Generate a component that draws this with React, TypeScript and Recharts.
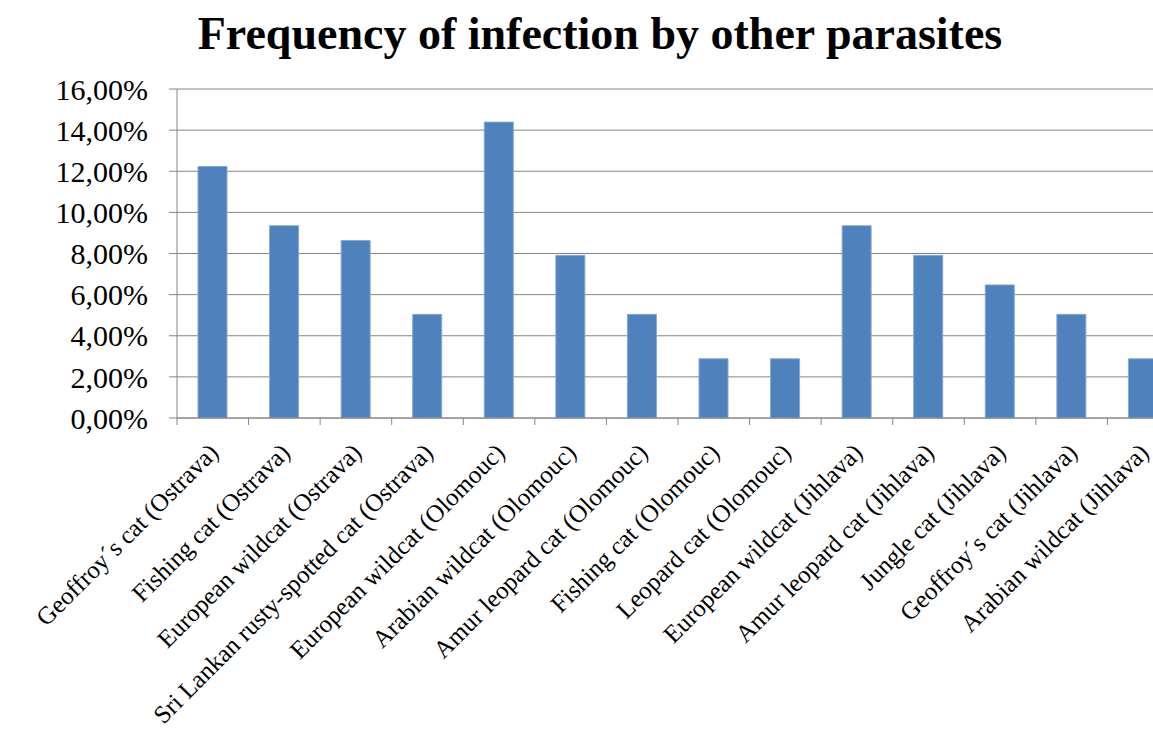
import React from "react"
import { BarChart, Bar, XAxis, YAxis, CartesianGrid } from "recharts"

// categories and infection frequencies (share of examined samples)
const categories = [
  "Geoffroy´s cat (Ostrava)",
  "Fishing cat (Ostrava)",
  "European wildcat (Ostrava)",
  "Sri Lankan rusty-spotted cat (Ostrava)",
  "European wildcat (Olomouc)",
  "Arabian wildcat (Olomouc)",
  "Amur leopard cat (Olomouc)",
  "Fishing cat (Olomouc)",
  "Leopard cat (Olomouc)",
  "European wildcat (Jihlava)",
  "Amur leopard cat (Jihlava)",
  "Jungle cat (Jihlava)",
  "Geoffroy´s cat (Jihlava)",
  "Arabian wildcat (Jihlava)",
]

const frequency = [
  0.1223, 0.0935, 0.0863, 0.0504, 0.1439, 0.0791, 0.0504,
  0.0288, 0.0288, 0.0935, 0.0791, 0.0647, 0.0504, 0.0288,
]

const yTicks = [0, 0.02, 0.04, 0.06, 0.08, 0.1, 0.12, 0.14, 0.16]

const chartData = categories.map((name, i) => ({ name, value: frequency[i] }))

const FONT = '"Liberation Serif", "Times New Roman", serif'
const GRID = "#868686"

const CHART_W = 1190
const CHART_H = 731
const Y_AXIS_W = 177
const MARGIN_RIGHT = 11
const BAND = (CHART_W - Y_AXIS_W - MARGIN_RIGHT) / categories.length

const formatPercent = (v: number) => (v * 100).toFixed(2).replace(".", ",") + "%"

// rotated category label with a tick mark at the left edge of each band
const CategoryTick = (props: any) => {
  const { x, y, payload } = props
  const left = x - BAND / 2
  const tx = x + 7
  const ty = y + 36
  return (
    <g>
      <line x1={left} y1={y} x2={left} y2={y + 7} stroke={GRID} strokeWidth={1} />
      <text
        x={tx}
        y={ty}
        textAnchor="end"
        transform={`rotate(-45, ${tx}, ${ty})`}
        fontFamily={FONT}
        fontSize={25}
        fill="#000"
      >
        {payload.value}
      </text>
    </g>
  )
}

export default function App() {
  return (
    <div
      style={{
        position: "absolute",
        left: 0,
        top: 0,
        width: 1153,
        height: 731,
        overflow: "hidden",
        background: "#fff",
      }}
    >
      <div
        style={{
          position: "absolute",
          left: 0,
          top: 11,
          width: 1200,
          textAlign: "center",
          fontFamily: FONT,
          fontWeight: "bold",
          fontSize: 46,
          lineHeight: "46px",
          color: "#000",
        }}
      >
        Frequency of infection by other parasites
      </div>
      <BarChart
        width={CHART_W}
        height={CHART_H}
        data={chartData}
        margin={{ top: 89, right: MARGIN_RIGHT, bottom: 0, left: 0 }}
        barSize={29}
      >
        <CartesianGrid vertical={false} stroke={GRID} strokeWidth={1} />
        <XAxis
          dataKey="name"
          interval={0}
          height={CHART_H - 418}
          axisLine={{ stroke: GRID }}
          tickLine={false}
          tickSize={0}
          tickMargin={0}
          tick={<CategoryTick />}
        />
        <YAxis
          width={Y_AXIS_W}
          domain={[0, 0.16]}
          ticks={yTicks}
          tickFormatter={formatPercent}
          axisLine={{ stroke: GRID }}
          tickLine={{ stroke: GRID }}
          tickSize={8}
          tickMargin={21}
          tick={{ fontFamily: FONT, fontSize: 30, fill: "#000" }}
        />
        <Bar
          dataKey="value"
          fill="#4F81BD"
          stroke="#86A8D4"
          strokeWidth={1}
          isAnimationActive={false}
        />
      </BarChart>
    </div>
  )
}
